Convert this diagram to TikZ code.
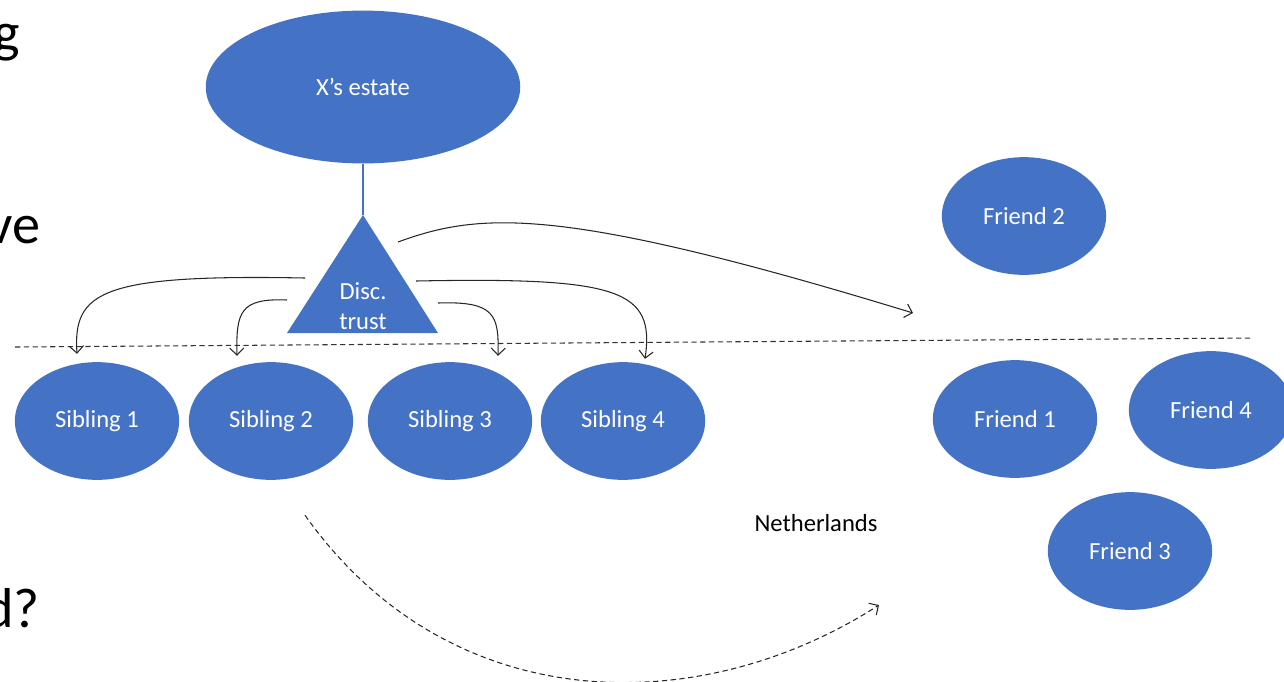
\documentclass[tikz,border=0pt]{standalone}
\usepackage{fontspec}
\setmainfont{Carlito}
\usetikzlibrary{shapes.geometric,arrows.meta}
\definecolor{nodeblue}{HTML}{4472C4}
\tikzset{
  blob/.style={ellipse, fill=nodeblue, text=white, minimum width=93.5pt, minimum height=67pt, inner sep=0pt},
  arr/.style={draw=black!85, line width=0.6pt, -{Straight Barb[length=4pt,width=8pt]}},
  cut/.style={anchor=base east, inner sep=0pt, font=\fontsize{32}{36}\selectfont},
}

\begin{document}
\begin{tikzpicture}[x=0.02cm, y=-0.02cm, font=\fontsize{14}{17}\selectfont]
  \useasboundingbox (0,0) rectangle (1284,681);

  % slide text cut off at the left edge
  \node[cut] (cut1) at (20,51) {g};
  \node[cut] (cut2) at (41,243) {ve};
  \node[cut] (cut3) at (40,627) {d?};

  % estate and trust
  \node[blob, minimum width=179pt, minimum height=87pt] (estate) at (363,87) {X’s estate};
  \coordinate (apex) at (363,215);
  \fill[nodeblue] (apex) -- (287,333) -- (438,333) -- cycle;
  \node[text=white, align=center, inner sep=0pt] (trust) at (363,306) {Disc.\\trust};
  \draw[nodeblue, line width=0.6pt] (estate) -- (apex);

  % border
  \coordinate (b1) at (15,347);
  \coordinate (b2) at (1253,338);
  \draw[black!80, dashed, line width=0.6pt, dash pattern=on 3pt off 2pt] (b1) -- (b2);

  \foreach \i/\x in {1/97,2/271,3/450,4/623} {
      \node[blob] (s\i) at (\x,421) {Sibling \i};
  }

  \node[blob] (f2) at (1024,216) {Friend 2};
  \node[blob] (f1) at (1015,419) {Friend 1};
  \node[blob] (f4) at (1211,410) {Friend 4};
  \node[blob] (f3) at (1130,551) {Friend 3};
  \node (nl) at (816,523) {Netherlands};

  % distributions
  \draw[arr] ([shift={(-58,-28)}]trust.center) .. controls (100,274) and (73,292) .. ([shift={(-20,-8)}]s1.north);
  \draw[arr] ([shift={(-76,-6)}]trust.center) .. controls (240,298) and (236,312) .. ([shift={(-34,-6)}]s2.north);
  \draw[arr] ([shift={(75,-3)}]trust.center) .. controls (495,301) and (499,315) .. ([shift={(48,-6)}]s3.north);
  \draw[arr] ([shift={(53,-25)}]trust.center) .. controls (620,277) and (655,290) .. ([shift={(22,-3)}]s4.north);
  \draw[arr] ([shift={(35,-64)}]trust.center) .. controls (480,212) and (560,205) .. ([shift={(-111,97)}]f2.center);
  \coordinate (mv) at (879,605);
  \draw[arr, dashed, dash pattern=on 3pt off 2pt] ([shift={(34,35)}]s2.south) .. controls (450,720) and (700,720) .. (mv);
\end{tikzpicture}
\end{document}
